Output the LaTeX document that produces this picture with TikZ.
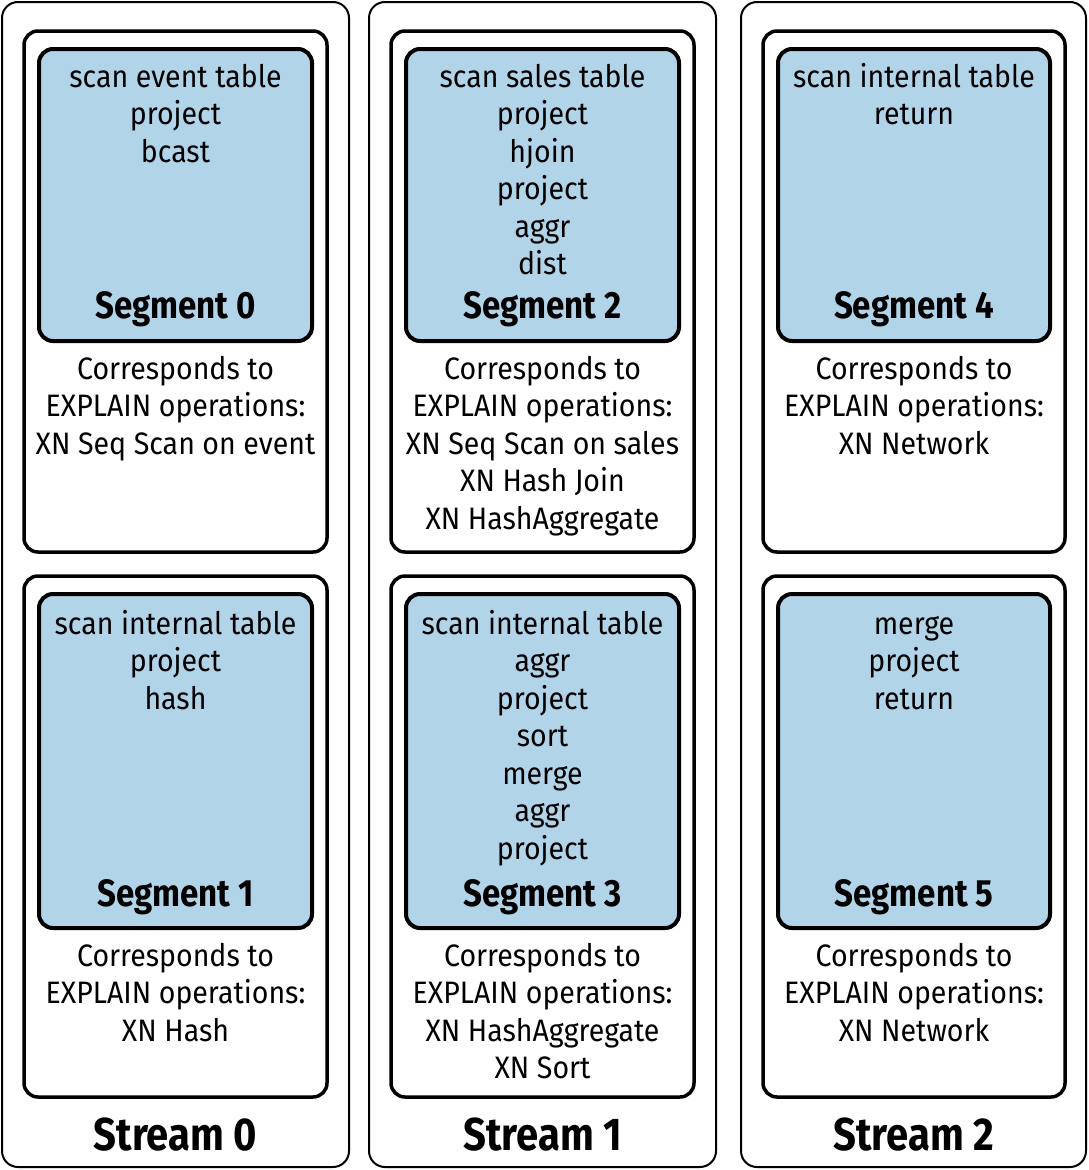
\documentclass[tikz,border=0pt]{standalone}
\usepackage{fontspec}
\setmainfont{Fira Sans}
\newfontfamily\lblfont{Fira Sans}[FakeStretch=0.87]
\newfontfamily\opfont{Fira Sans}[FakeStretch=0.92]
\definecolor{segblue}{RGB}{178,212,233}
\tikzset{
  streambox/.style={draw=black, line width=2pt, rounded corners=16pt},
  segbox/.style={draw=black, line width=3.5pt, rounded corners=14pt, fill=white},
  bluebox/.style={draw=black, line width=4pt, rounded corners=14pt, fill=segblue},
  txt/.style={inner sep=0pt, anchor=base, font=\opfont\fontsize{31}{37.5}\selectfont},
  seglbl/.style={inner sep=0pt, anchor=base, font=\lblfont\fontsize{38}{44}\selectfont\bfseries},
  strlbl/.style={inner sep=0pt, anchor=base, font=\lblfont\fontsize{46}{52}\selectfont\bfseries},
}
\newcommand\textlines[4]{%
  \foreach \t [count=\i from 0] in {#4} {
    \node[txt] (#1-\i) at (#2,{#3+\i*37.5}) {\t};
  }%
}
\begin{document}
\begin{tikzpicture}[x=1pt,y=-1pt]
\useasboundingbox (0,0) rectangle (1089,1170);
% streams
\draw[streambox] (2,2) rectangle (349,1167);
\draw[streambox] (369,2) rectangle (716,1167);
\draw[streambox] (741,2) rectangle (1086,1167);
% segment boxes
\foreach \xa/\xb in {24/327,391/694,763/1065} {
  \draw[segbox] (\xa,31) rectangle (\xb,552);
  \draw[segbox] (\xa,576) rectangle (\xb,1097);
}
\foreach \xa/\xb in {39/312,406/679,778/1050} {
  \draw[bluebox] (\xa,49) rectangle (\xb,341);
  \draw[bluebox] (\xa,594) rectangle (\xb,928);
}
% Stream 0
\textlines{s0op}{175.5}{87}{scan event table,project,bcast}
\node[seglbl] (seg0) at (175.5,318) {Segment 0};
\textlines{s0ex}{175.5}{379}{Corresponds to,EXPLAIN operations:,XN Seq Scan on event}
\textlines{s1op}{175.5}{634}{scan internal table,project,hash}
\node[seglbl] (seg1) at (175.5,906) {Segment 1};
\textlines{s1ex}{175.5}{966}{Corresponds to,EXPLAIN operations:,XN Hash}
\node[strlbl] (str0) at (175.5,1150) {Stream 0};
% Stream 1
\textlines{s2op}{542.5}{87}{scan sales table,project,hjoin,project,aggr,dist}
\node[seglbl] (seg2) at (542.5,318) {Segment 2};
\textlines{s2ex}{542.5}{379}{Corresponds to,EXPLAIN operations:,XN Seq Scan on sales,XN Hash Join,XN HashAggregate}
\textlines{s3op}{542.5}{634}{scan internal table,aggr,project,sort,merge,aggr,project}
\node[seglbl] (seg3) at (542.5,906) {Segment 3};
\textlines{s3ex}{542.5}{966}{Corresponds to,EXPLAIN operations:,XN HashAggregate,XN Sort}
\node[strlbl] (str1) at (542.5,1150) {Stream 1};
% Stream 2
\textlines{s4op}{914}{87}{scan internal table,return}
\node[seglbl] (seg4) at (914,318) {Segment 4};
\textlines{s4ex}{914}{379}{Corresponds to,EXPLAIN operations:,XN Network}
\textlines{s5op}{914}{634}{merge,project,return}
\node[seglbl] (seg5) at (914,906) {Segment 5};
\textlines{s5ex}{914}{966}{Corresponds to,EXPLAIN operations:,XN Network}
\node[strlbl] (str2) at (914,1150) {Stream 2};
\end{tikzpicture}
\end{document}
